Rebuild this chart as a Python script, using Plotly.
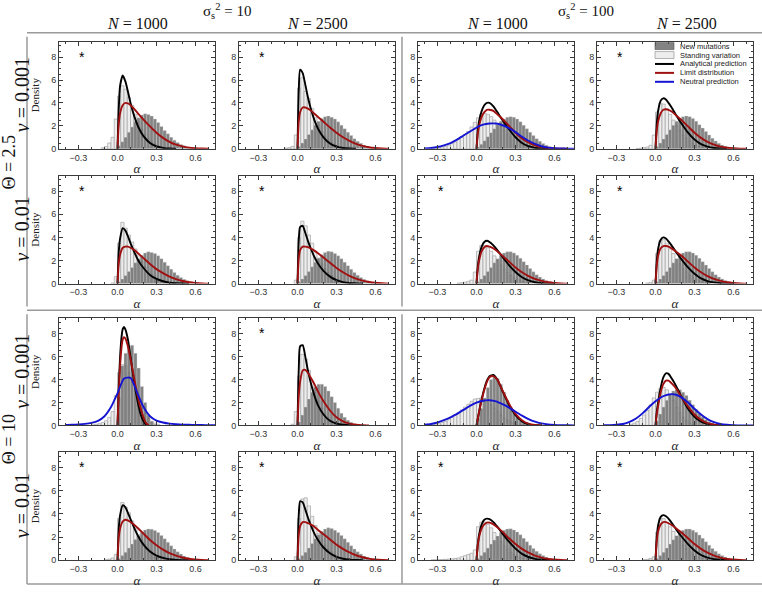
import plotly.graph_objects as go

W, H = 762, 592

# ---------------- shared grids / labels ----------------
bin_width = 0.025
new_start = 0.0
curve_alpha = [0, 0.01, 0.02, 0.04, 0.06, 0.08, 0.1, 0.13, 0.16, 0.2, 0.25, 0.3,
               0.35, 0.4, 0.45, 0.5, 0.55, 0.6, 0.65, 0.7]
narrow_alpha = [0, 0.01, 0.02, 0.03, 0.04, 0.05, 0.06, 0.08, 0.1, 0.12, 0.14,
                0.16, 0.18, 0.2, 0.22, 0.24]
neutral_alpha = [-0.4, -0.35, -0.3, -0.25, -0.2, -0.15, -0.1, -0.05, 0.0, 0.05,
                 0.1, 0.15, 0.2, 0.25, 0.3, 0.35, 0.4, 0.45, 0.5, 0.55, 0.6,
                 0.65, 0.7, 0.75]
x_ticks = [-0.3, 0.0, 0.3, 0.6]
x_tick_labels = ["\u22120.3", "0.0", "0.3", "0.6"]
y_ticks = [0, 2, 4, 6, 8]
group_titles = ["σ<sub>s</sub><sup>2</sup> = 10", "σ<sub>s</sub><sup>2</sup> = 100"]
col_titles = ["<i>N</i> = 1000", "<i>N</i> = 2500", "<i>N</i> = 1000", "<i>N</i> = 2500"]
row_titles = ["<i>v</i> = 0.001", "<i>v</i> = 0.01", "<i>v</i> = 0.001", "<i>v</i> = 0.01"]
theta_titles = ["Θ = 2.5", "Θ = 10"]
legend_labels = ["New mutations", "Standing variation", "Analytical prediction",
                 "Limit distribution", "Neutral prediction"]
star_alpha = -0.27
star_density = 8.3

# ---------------- Theta = 2.5, v = 0.001 ----------------
new_11 = [0.25, 0.6, 1.0, 1.45, 1.9, 2.35, 2.7, 2.95, 3.05, 3.0, 2.85, 2.6, 2.3, 1.95,
          1.6, 1.3, 1.0, 0.75, 0.55, 0.38, 0.25, 0.16, 0.1, 0.06, 0.03, 0.02, 0.01]
stand_11_start = -0.125
stand_11 = [0.08, 0.2, 0.5, 1.0, 2.6, 4.6, 5.5, 5.2, 4.5, 3.8, 3.0, 2.3, 1.7, 1.25, 0.9,
            0.6, 0.4, 0.25, 0.15, 0.08, 0.04]
black_11 = [0, 3.6, 5.5, 6.4, 5.9, 5.0, 4.0, 2.8, 1.9, 1.1, 0.5, 0.2, 0.08, 0.02, 0, 0, 0, 0, 0, 0]
red_11 = [0, 2.2, 3.1, 3.8, 4.0, 3.95, 3.8, 3.45, 3.05, 2.55, 1.95, 1.4, 0.95, 0.6, 0.35,
          0.2, 0.1, 0.05, 0.02, 0]

new_12 = [0.2, 0.5, 0.85, 1.25, 1.65, 2.05, 2.4, 2.65, 2.8, 2.85, 2.75, 2.6, 2.35, 2.05,
          1.75, 1.45, 1.15, 0.88, 0.65, 0.47, 0.32, 0.21, 0.13, 0.08, 0.04, 0.02, 0.01]
stand_12_start = -0.1
stand_12 = [0.05, 0.1, 0.2, 1.2, 5.3, 6.2, 5.0, 4.4, 3.5, 2.7, 2.0, 1.5, 1.1, 0.8, 0.55,
            0.38, 0.25, 0.15, 0.09, 0.05]
black_12 = [0, 5.2, 6.9, 6.6, 5.6, 4.5, 3.6, 2.5, 1.7, 1.0, 0.45, 0.18, 0.06, 0.02, 0, 0, 0, 0, 0, 0]
red_12 = [0, 2.4, 3.2, 3.6, 3.6, 3.5, 3.35, 3.05, 2.75, 2.35, 1.85, 1.4, 1.0, 0.68, 0.42,
          0.25, 0.13, 0.06, 0.02, 0]

new_13 = [0.15, 0.4, 0.7, 1.05, 1.4, 1.75, 2.1, 2.4, 2.6, 2.75, 2.8, 2.75, 2.6, 2.35,
          2.05, 1.75, 1.45, 1.15, 0.88, 0.65, 0.45, 0.3, 0.19, 0.11, 0.06, 0.03, 0.01]
stand_13_start = -0.35
stand_13 = [0.03, 0.06, 0.1, 0.15, 0.2, 0.3, 0.45, 0.6, 0.8, 1.0, 1.25, 1.5, 1.9, 2.3,
            2.7, 3.0, 3.1, 3.0, 2.8, 2.5, 2.2, 1.9, 1.6, 1.3, 1.0, 0.75, 0.55, 0.4,
            0.28, 0.18, 0.1, 0.05]
black_13 = [0, 1.6, 2.4, 3.3, 3.8, 4.0, 4.0, 3.7, 3.2, 2.5, 1.7, 1.0, 0.5, 0.22, 0.08, 0.02, 0, 0, 0, 0]
red_13 = [0, 1.3, 2.0, 2.8, 3.2, 3.4, 3.4, 3.3, 3.0, 2.6, 2.0, 1.4, 0.9, 0.55, 0.3, 0.15,
          0.07, 0.03, 0.01, 0]
blue_13 = [0.03, 0.07, 0.15, 0.3, 0.5, 0.8, 1.15, 1.5, 1.85, 2.1, 2.2, 2.2, 2.05, 1.8,
           1.45, 1.05, 0.7, 0.42, 0.22, 0.1, 0.05, 0.02, 0.01, 0.0]

new_14 = [0.2, 0.5, 0.85, 1.25, 1.65, 2.05, 2.4, 2.65, 2.8, 2.85, 2.8, 2.65, 2.4, 2.1,
          1.8, 1.5, 1.2, 0.92, 0.68, 0.48, 0.33, 0.22, 0.14, 0.08, 0.04, 0.02, 0.01]
stand_14_start = -0.15
stand_14 = [0.03, 0.05, 0.1, 0.15, 0.3, 1.2, 3.2, 4.0, 3.9, 3.5, 3.0, 2.5, 2.0, 1.6,
            1.2, 0.9, 0.65, 0.45, 0.3, 0.2, 0.12, 0.07]
black_14 = [0, 2.2, 3.3, 4.2, 4.4, 4.3, 4.0, 3.5, 2.9, 2.2, 1.4, 0.8, 0.4, 0.18, 0.07, 0.02, 0, 0, 0, 0]
red_14 = [0, 1.6, 2.4, 3.1, 3.4, 3.45, 3.4, 3.2, 2.9, 2.5, 1.95, 1.4, 0.95, 0.6, 0.35,
          0.18, 0.09, 0.04, 0.01, 0]

# ---------------- Theta = 2.5, v = 0.01 ----------------
new_21 = [0.15, 0.4, 0.7, 1.05, 1.4, 1.8, 2.15, 2.45, 2.65, 2.75, 2.7, 2.6, 2.4, 2.15,
          1.85, 1.55, 1.25, 0.97, 0.73, 0.53, 0.37, 0.25, 0.16, 0.1, 0.06, 0.03, 0.01]
stand_21_start = -0.05
stand_21 = [0.05, 0.6, 3.5, 5.3, 4.8, 4.2, 3.6, 3.0, 2.4, 1.9, 1.45, 1.1, 0.8, 0.58,
            0.4, 0.27, 0.17, 0.1, 0.05, 0.02]
black_21 = [0, 2.8, 3.9, 4.8, 4.6, 4.1, 3.5, 2.7, 2.0, 1.35, 0.75, 0.4, 0.2, 0.08, 0.03, 0.01, 0, 0, 0, 0]
red_21 = [0, 1.8, 2.5, 3.1, 3.2, 3.2, 3.1, 2.9, 2.6, 2.2, 1.7, 1.25, 0.9, 0.6, 0.38,
          0.22, 0.12, 0.06, 0.02, 0]

new_22 = [0.15, 0.4, 0.7, 1.05, 1.45, 1.85, 2.2, 2.5, 2.7, 2.8, 2.75, 2.6, 2.4, 2.15,
          1.85, 1.55, 1.25, 0.97, 0.73, 0.53, 0.37, 0.25, 0.16, 0.1, 0.06, 0.03, 0.01]
stand_22_start = -0.025
stand_22 = [0.3, 4.0, 5.4, 5.0, 4.2, 3.5, 2.8, 2.2, 1.7, 1.3, 0.95, 0.7, 0.5, 0.34,
            0.22, 0.14, 0.08, 0.04]
black_22 = [0, 3.8, 4.9, 5.0, 4.4, 3.7, 3.1, 2.3, 1.7, 1.1, 0.6, 0.3, 0.13, 0.05, 0.02, 0, 0, 0, 0, 0]
red_22 = [0, 2.2, 2.9, 3.2, 3.2, 3.15, 3.05, 2.85, 2.6, 2.25, 1.8, 1.35, 0.98, 0.67,
          0.43, 0.26, 0.14, 0.07, 0.03, 0]

new_23 = [0.15, 0.4, 0.7, 1.05, 1.4, 1.8, 2.15, 2.45, 2.65, 2.75, 2.75, 2.65, 2.45, 2.2,
          1.9, 1.6, 1.3, 1.02, 0.77, 0.56, 0.4, 0.27, 0.17, 0.1, 0.06, 0.03, 0.01]
stand_23_start = -0.15
stand_23 = [0.05, 0.08, 0.12, 0.2, 0.3, 1.0, 2.8, 3.3, 3.3, 3.1, 2.8, 2.4, 2.0, 1.6,
            1.25, 0.95, 0.7, 0.5, 0.35, 0.23, 0.14, 0.08]
black_23 = [0, 1.5, 2.3, 3.2, 3.6, 3.7, 3.6, 3.3, 2.9, 2.3, 1.6, 1.0, 0.55, 0.28, 0.12, 0.05, 0.02, 0, 0, 0]
red_23 = [0, 1.3, 2.0, 2.8, 3.15, 3.25, 3.2, 3.05, 2.8, 2.4, 1.9, 1.4, 0.98, 0.65, 0.4,
          0.23, 0.12, 0.06, 0.02, 0]

new_24 = [0.15, 0.4, 0.7, 1.05, 1.4, 1.8, 2.15, 2.45, 2.65, 2.75, 2.75, 2.65, 2.45, 2.2,
          1.9, 1.6, 1.3, 1.02, 0.77, 0.56, 0.4, 0.27, 0.17, 0.1, 0.06, 0.03, 0.01]
stand_24_start = -0.075
stand_24 = [0.05, 0.1, 0.3, 2.6, 3.7, 3.8, 3.5, 3.0, 2.6, 2.1, 1.7, 1.3, 1.0, 0.72,
            0.5, 0.34, 0.22, 0.13, 0.07, 0.03]
black_24 = [0, 2.0, 3.0, 3.8, 4.0, 3.9, 3.65, 3.2, 2.7, 2.1, 1.4, 0.85, 0.45, 0.22, 0.1, 0.04, 0.01, 0, 0, 0]
red_24 = [0, 1.6, 2.4, 3.05, 3.25, 3.25, 3.2, 3.0, 2.75, 2.4, 1.9, 1.4, 0.98, 0.65, 0.4,
          0.23, 0.12, 0.06, 0.02, 0]

# ---------------- Theta = 10, v = 0.001 ----------------
new_31 = [2.5, 5.2, 6.3, 6.9, 7.0, 6.3, 5.0, 3.4, 2.0, 0.9, 0.35, 0.1, 0.03]
stand_31_start = -0.2
stand_31 = [0.05, 0.1, 0.15, 0.25, 0.4, 0.7, 1.2, 2.6, 4.6, 5.3, 5.2, 4.6, 3.8, 3.0,
            2.2, 1.5, 1.0, 0.6, 0.35, 0.2, 0.1]
black_31 = [0, 3.5, 6.0, 7.6, 8.4, 8.6, 8.4, 7.5, 6.0, 4.4, 3.0, 1.8, 0.9, 0.35, 0.05, 0]
red_31 = [0, 3.0, 5.2, 6.7, 7.5, 7.7, 7.6, 6.9, 5.8, 4.6, 3.4, 2.3, 1.4, 0.7, 0.2, 0.02]
blue_31 = [0.03, 0.05, 0.08, 0.13, 0.22, 0.4, 0.8, 1.6, 2.8, 4.1, 4.15, 2.9, 1.6, 0.8,
           0.42, 0.25, 0.15, 0.1, 0.07, 0.05, 0.04, 0.03, 0.02, 0.02]

new_32 = [0.3, 0.9, 1.6, 2.3, 2.9, 3.35, 3.6, 3.6, 3.4, 3.0, 2.5, 2.0, 1.5, 1.05, 0.7,
          0.45, 0.27, 0.15, 0.08, 0.04, 0.02]
stand_32_start = -0.05
stand_32 = [0.1, 1.2, 4.3, 6.2, 5.8, 4.8, 3.8, 2.9, 2.1, 1.5, 1.0, 0.65, 0.4, 0.22,
            0.12, 0.06, 0.03]
black_32 = [0, 5.0, 6.9, 7.0, 6.0, 4.8, 3.8, 2.6, 1.7, 0.95, 0.4, 0.15, 0.05, 0.01, 0, 0, 0, 0, 0, 0]
red_32 = [0, 2.6, 3.8, 4.8, 4.85, 4.6, 4.2, 3.6, 2.9, 2.1, 1.3, 0.7, 0.35, 0.15, 0.06, 0.02, 0, 0, 0, 0]

new_33 = [0.6, 1.5, 2.4, 3.3, 4.0, 4.3, 4.1, 3.6, 2.9, 2.2, 1.6, 1.1, 0.7, 0.4, 0.22,
          0.1, 0.05, 0.02]
stand_33_start = -0.35
stand_33 = [0.05, 0.1, 0.15, 0.25, 0.35, 0.5, 0.7, 0.9, 1.1, 1.35, 1.6, 1.85, 2.1, 2.3,
            2.35, 2.4, 2.3, 2.1, 1.8, 1.5, 1.2, 0.9, 0.65, 0.45, 0.3, 0.18, 0.1, 0.05,
            0.03, 0.02]
black_33 = [0, 0.6, 1.2, 2.3, 3.2, 3.9, 4.3, 4.4, 4.0, 3.0, 1.8, 0.9, 0.35, 0.08, 0.01, 0, 0, 0, 0, 0]
red_33 = [0, 0.6, 1.2, 2.2, 3.1, 3.8, 4.2, 4.3, 4.0, 3.05, 1.9, 1.0, 0.45, 0.15, 0.03, 0, 0, 0, 0, 0]
blue_33 = [0.05, 0.12, 0.25, 0.45, 0.7, 1.0, 1.35, 1.7, 1.98, 2.15, 2.2, 2.1, 1.85,
           1.55, 1.2, 0.85, 0.55, 0.32, 0.17, 0.08, 0.04, 0.02, 0.01, 0.0]

new_34 = [0.4, 1.0, 1.6, 2.2, 2.7, 3.0, 3.15, 3.1, 2.9, 2.6, 2.2, 1.8, 1.4, 1.05, 0.75,
          0.5, 0.33, 0.2, 0.12, 0.07, 0.04, 0.02, 0.01]
stand_34_start = -0.2
stand_34 = [0.1, 0.2, 0.35, 0.6, 0.9, 1.3, 1.8, 2.4, 2.9, 3.2, 3.3, 3.1, 2.7, 2.2, 1.6,
            1.1, 0.7, 0.4, 0.2, 0.1]
black_34 = [0, 1.2, 2.0, 3.3, 4.2, 4.55, 4.5, 4.0, 3.4, 2.5, 1.45, 0.75, 0.32, 0.11, 0.03, 0, 0, 0, 0, 0]
red_34 = [0, 1.0, 1.7, 2.9, 3.6, 3.9, 3.9, 3.6, 3.2, 2.45, 1.65, 0.95, 0.48, 0.2, 0.07, 0.02, 0, 0, 0, 0]
blue_34 = [0.01, 0.02, 0.05, 0.12, 0.3, 0.6, 1.05, 1.6, 2.1, 2.5, 2.7, 2.7, 2.45, 2.0,
           1.45, 0.95, 0.55, 0.28, 0.12, 0.05, 0.02, 0.0, 0.0, 0.0]

# ---------------- Theta = 10, v = 0.01 ----------------
new_41 = [0.15, 0.4, 0.7, 1.05, 1.4, 1.8, 2.15, 2.45, 2.62, 2.7, 2.68, 2.58, 2.4, 2.15,
          1.85, 1.55, 1.25, 0.97, 0.73, 0.53, 0.37, 0.25, 0.16, 0.1, 0.06, 0.03, 0.01]
stand_41_start = -0.1
stand_41 = [0.05, 0.1, 0.2, 0.5, 3.6, 5.0, 4.6, 4.1, 3.4, 2.8, 2.2, 1.75, 1.35, 1.0,
            0.72, 0.5, 0.33, 0.2, 0.11, 0.05]
black_41 = [0, 2.8, 3.9, 4.75, 4.6, 4.1, 3.55, 2.75, 2.05, 1.35, 0.75, 0.4, 0.2, 0.08, 0.03, 0.01, 0, 0, 0, 0]
red_41 = [0, 2.0, 2.75, 3.35, 3.5, 3.45, 3.3, 3.05, 2.75, 2.3, 1.75, 1.3, 0.92, 0.62,
          0.4, 0.24, 0.13, 0.06, 0.02, 0]

new_42 = [0.15, 0.4, 0.7, 1.05, 1.45, 1.85, 2.2, 2.5, 2.7, 2.8, 2.75, 2.6, 2.4, 2.15,
          1.85, 1.55, 1.25, 0.97, 0.73, 0.53, 0.37, 0.25, 0.16, 0.1, 0.06, 0.03, 0.01]
stand_42_start = -0.025
stand_42 = [0.3, 3.6, 5.3, 5.4, 4.7, 3.8, 3.0, 2.3, 1.75, 1.3, 0.95, 0.7, 0.5, 0.34,
            0.22, 0.14, 0.08, 0.04]
black_42 = [0, 4.0, 5.1, 5.0, 4.4, 3.7, 3.1, 2.3, 1.7, 1.1, 0.6, 0.3, 0.13, 0.05, 0.02, 0, 0, 0, 0, 0]
red_42 = [0, 2.2, 2.95, 3.3, 3.3, 3.2, 3.1, 2.9, 2.6, 2.25, 1.8, 1.35, 0.98, 0.67, 0.43,
          0.26, 0.14, 0.07, 0.03, 0]

new_43 = [0.15, 0.4, 0.7, 1.05, 1.4, 1.75, 2.1, 2.4, 2.6, 2.7, 2.72, 2.62, 2.45, 2.2,
          1.9, 1.6, 1.3, 1.02, 0.77, 0.56, 0.4, 0.27, 0.17, 0.1, 0.06, 0.03, 0.01]
stand_43_start = -0.35
stand_43 = [0.03, 0.04, 0.05, 0.06, 0.08, 0.1, 0.12, 0.15, 0.2, 0.3, 0.4, 0.5, 0.6, 0.9,
            2.9, 3.3, 3.3, 3.1, 2.8, 2.4, 2.0, 1.6, 1.25, 0.95, 0.7, 0.5, 0.35, 0.23,
            0.14, 0.08]
black_43 = [0, 1.4, 2.2, 3.1, 3.5, 3.6, 3.55, 3.3, 2.9, 2.3, 1.6, 1.0, 0.55, 0.28, 0.12, 0.05, 0.02, 0, 0, 0]
red_43 = [0, 1.3, 2.0, 2.75, 3.1, 3.25, 3.25, 3.1, 2.85, 2.45, 1.9, 1.4, 0.98, 0.65,
          0.4, 0.23, 0.12, 0.06, 0.02, 0]

new_44 = [0.15, 0.4, 0.7, 1.05, 1.4, 1.78, 2.12, 2.42, 2.6, 2.7, 2.7, 2.6, 2.42, 2.18,
          1.9, 1.6, 1.3, 1.02, 0.77, 0.56, 0.4, 0.27, 0.17, 0.1, 0.06, 0.03, 0.01]
stand_44_start = -0.1
stand_44 = [0.05, 0.08, 0.15, 0.3, 2.4, 3.6, 3.6, 3.3, 2.9, 2.5, 2.05, 1.65, 1.3, 1.0,
            0.72, 0.5, 0.33, 0.2, 0.11, 0.05]
black_44 = [0, 2.0, 3.0, 3.75, 3.9, 3.8, 3.6, 3.15, 2.65, 2.05, 1.4, 0.85, 0.45, 0.22, 0.1, 0.04, 0.01, 0, 0, 0]
red_44 = [0, 1.7, 2.5, 3.1, 3.3, 3.3, 3.2, 3.0, 2.75, 2.4, 1.9, 1.4, 0.98, 0.65, 0.4,
          0.23, 0.12, 0.06, 0.02, 0]

# (row, col, new, stand_start, stand, curve grid, black, red, blue, star)
panels = [
    (1, 1, new_11, stand_11_start, stand_11, curve_alpha, black_11, red_11, None, True),
    (1, 2, new_12, stand_12_start, stand_12, curve_alpha, black_12, red_12, None, True),
    (1, 3, new_13, stand_13_start, stand_13, curve_alpha, black_13, red_13, blue_13, False),
    (1, 4, new_14, stand_14_start, stand_14, curve_alpha, black_14, red_14, None, True),
    (2, 1, new_21, stand_21_start, stand_21, curve_alpha, black_21, red_21, None, True),
    (2, 2, new_22, stand_22_start, stand_22, curve_alpha, black_22, red_22, None, True),
    (2, 3, new_23, stand_23_start, stand_23, curve_alpha, black_23, red_23, None, True),
    (2, 4, new_24, stand_24_start, stand_24, curve_alpha, black_24, red_24, None, True),
    (3, 1, new_31, stand_31_start, stand_31, narrow_alpha, black_31, red_31, blue_31, False),
    (3, 2, new_32, stand_32_start, stand_32, curve_alpha, black_32, red_32, None, True),
    (3, 3, new_33, stand_33_start, stand_33, curve_alpha, black_33, red_33, blue_33, False),
    (3, 4, new_34, stand_34_start, stand_34, curve_alpha, black_34, red_34, blue_34, False),
    (4, 1, new_41, stand_41_start, stand_41, curve_alpha, black_41, red_41, None, True),
    (4, 2, new_42, stand_42_start, stand_42, curve_alpha, black_42, red_42, None, True),
    (4, 3, new_43, stand_43_start, stand_43, curve_alpha, black_43, red_43, None, True),
    (4, 4, new_44, stand_44_start, stand_44, curve_alpha, black_44, red_44, None, True),
]

# ---------------- styling ----------------
NEW_FILL = "rgba(100,100,100,0.8)"
STAND_FILL = "#ededed"
STAND_EDGE = "#999999"
BLACK = "#000000"
RED = "#a01010"
BLUE = "#1414d2"
FRAME = "#3a3a3a"
SEP = "#9a9a9a"
SERIF = "Liberation Serif"
SANS = "Liberation Sans"

col_px = [(59, 215), (239, 395), (418, 574), (597, 753)]
row_px = [(42, 150), (177, 286), (321, 429), (456, 565)]
col_title_px = [137, 317, 497, 686]


def px_x(p):
    return p / W


def px_y(p):
    return 1 - p / H


def trim(xs, ys):
    last = max(i for i, v in enumerate(ys) if v > 0)
    end = min(last + 2, len(ys))
    return xs[:end], ys[:end]


fig = go.Figure()
layout = {}
annotations = []
shapes = []

for idx, (r, c, new, s0, stand, grid, black, red, blue, star) in enumerate(panels, start=1):
    xa = "x" if idx == 1 else f"x{idx}"
    ya = "y" if idx == 1 else f"y{idx}"
    xk = "xaxis" if idx == 1 else f"xaxis{idx}"
    yk = "yaxis" if idx == 1 else f"yaxis{idx}"

    stand_x = [s0 + bin_width * (i + 0.5) for i in range(len(stand))]
    new_x = [new_start + bin_width * (i + 0.5) for i in range(len(new))]

    fig.add_trace(go.Bar(x=stand_x, y=stand, width=bin_width, xaxis=xa, yaxis=ya,
                         marker=dict(color=STAND_FILL, line=dict(color=STAND_EDGE, width=0.6)),
                         showlegend=False, name=legend_labels[1]))
    fig.add_trace(go.Bar(x=new_x, y=new, width=bin_width, xaxis=xa, yaxis=ya,
                         marker=dict(color=NEW_FILL, line=dict(color="rgba(215,215,215,0.7)", width=0.5)),
                         showlegend=False, name=legend_labels[0]))
    bx, by = trim(grid, black)
    fig.add_trace(go.Scatter(x=bx, y=by, mode="lines", xaxis=xa, yaxis=ya,
                             line=dict(color=BLACK, width=1.9, shape="spline", smoothing=0.6),
                             showlegend=False, name=legend_labels[2]))
    rx, ry = trim(grid, red)
    fig.add_trace(go.Scatter(x=rx, y=ry, mode="lines", xaxis=xa, yaxis=ya,
                             line=dict(color=RED, width=1.9, shape="spline", smoothing=0.6),
                             showlegend=False, name=legend_labels[3]))
    if blue is not None:
        fig.add_trace(go.Scatter(x=neutral_alpha, y=blue, mode="lines", xaxis=xa, yaxis=ya,
                                 line=dict(color=BLUE, width=1.9, shape="spline", smoothing=0.6),
                                 showlegend=False, name=legend_labels[4]))

    x0, x1 = col_px[c - 1]
    y0, y1 = row_px[r - 1]
    layout[xk] = dict(domain=[px_x(x0), px_x(x1)], anchor=ya, range=[-0.45, 0.75],
                      tickvals=x_ticks, ticktext=x_tick_labels, ticks="inside", ticklen=4,
                      tickwidth=0.8, tickcolor=FRAME, showline=True, linecolor=FRAME,
                      linewidth=1, mirror="ticks", showgrid=False, zeroline=False,
                      tickfont=dict(family=SANS, size=9, color="#333"),
                      minor=dict(ticks="inside", ticklen=2, dtick=0.1, tick0=0,
                                 tickcolor=FRAME, showgrid=False),
                      title=dict(text="<i>α</i>", font=dict(family=SERIF, size=13, color="#222"),
                                 standoff=2))
    layout[yk] = dict(domain=[px_y(y1), px_y(y0)], anchor=xa, range=[0, 9.35],
                      tickvals=y_ticks, ticks="inside", ticklen=4, tickwidth=0.8,
                      tickcolor=FRAME, showline=True, linecolor=FRAME, linewidth=1,
                      mirror="ticks", showgrid=False, zeroline=False,
                      tickfont=dict(family=SANS, size=9, color="#333"),
                      minor=dict(ticks="inside", ticklen=2, dtick=0.5, tick0=0,
                                 tickcolor=FRAME, showgrid=False))
    if c == 1:
        layout[yk]["title"] = dict(text="Density", font=dict(family=SERIF, size=11, color="#222"),
                                   standoff=9)
    if star:
        annotations.append(dict(x=star_alpha, y=star_density, xref=xa, yref=ya, text="*",
                                xanchor="center", yanchor="middle", yshift=-3,
                                showarrow=False, font=dict(family=SANS, size=14, color="#000")))


def paper_text(px, py, text, size, family=SERIF, angle=0, xanchor="center", color="#111", pad=1):
    annotations.append(dict(x=px_x(px), y=px_y(py), xref="paper", yref="paper", text=text,
                            textangle=angle, xanchor=xanchor, yanchor="middle", borderpad=pad,
                            showarrow=False, font=dict(family=family, size=size, color=color)))


# headers
for i, t in enumerate(group_titles):
    paper_text((col_px[2 * i][0] + col_px[2 * i + 1][1]) / 2, 11, t, 15)
for i, t in enumerate(col_titles):
    paper_text(col_title_px[i], 24, t, 16)
for i, t in enumerate(row_titles):
    paper_text(22, (row_px[i][0] + row_px[i][1]) / 2, t, 20, angle=-90)
for i, t in enumerate(theta_titles):
    paper_text(9, (row_px[2 * i][0] + row_px[2 * i + 1][1]) / 2, t, 18, angle=-90)

# separators
for yy in (33, 313, 589):
    shapes.append(dict(type="line", xref="paper", yref="paper", x0=px_x(27), x1=1,
                       y0=px_y(yy), y1=px_y(yy), line=dict(color=SEP, width=1.5)))
for xx in (27, 402):
    shapes.append(dict(type="line", xref="paper", yref="paper", x0=px_x(xx), x1=px_x(xx),
                       y0=px_y(37), y1=px_y(309), line=dict(color=SEP, width=1.5)))
    shapes.append(dict(type="line", xref="paper", yref="paper", x0=px_x(xx), x1=px_x(xx),
                       y0=px_y(317), y1=px_y(589), line=dict(color=SEP, width=1.5)))

# manual legend inside the top-right panel
leg_x0, leg_x1, leg_text_x = 655, 674, 679
leg_rows = [46.5, 55.5, 64.5, 73.5, 82.5]
styles = [("rect", NEW_FILL, "#555"), ("rect", STAND_FILL, "#888"),
          ("line", BLACK, None), ("line", RED, None), ("line", BLUE, None)]
for (kind, col, edge), yy, lab in zip(styles, leg_rows, legend_labels):
    if kind == "rect":
        shapes.append(dict(type="rect", xref="paper", yref="paper", x0=px_x(leg_x0),
                           x1=px_x(leg_x1), y0=px_y(yy + 3.5), y1=px_y(yy - 3.5),
                           fillcolor=col, line=dict(color=edge, width=0.6)))
    else:
        shapes.append(dict(type="line", xref="paper", yref="paper", x0=px_x(leg_x0),
                           x1=px_x(leg_x1), y0=px_y(yy), y1=px_y(yy),
                           line=dict(color=col, width=2)))
    paper_text(leg_text_x, yy, lab, 7.5, family=SANS, xanchor="left", color="#222", pad=0)

fig.update_layout(**layout)
fig.update_layout(width=W, height=H, margin=dict(l=0, r=0, t=0, b=0),
                  paper_bgcolor="white", plot_bgcolor="white", barmode="overlay",
                  showlegend=False, annotations=annotations, shapes=shapes)

fig.write_html("out.html", config={"displayModeBar": False},
               post_script="document.body.style.margin='0';")
